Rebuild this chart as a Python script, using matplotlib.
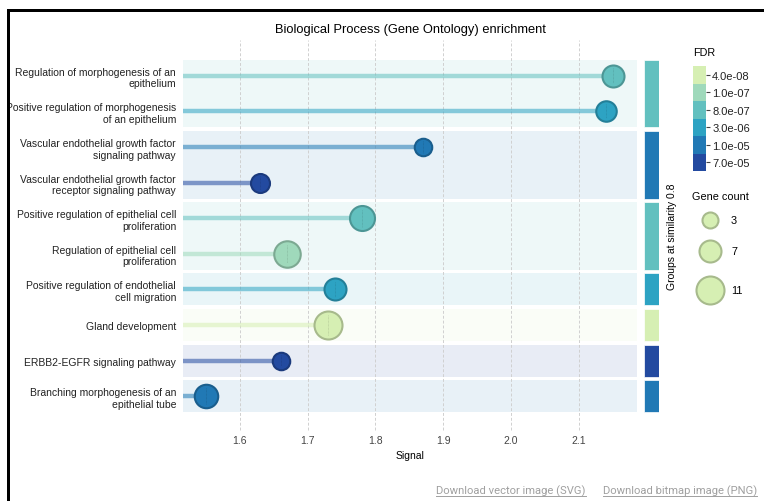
import numpy as np
import matplotlib
matplotlib.use("Agg")
import matplotlib.pyplot as plt
from matplotlib.patches import Rectangle
from matplotlib.lines import Line2D
from matplotlib.colors import to_rgb

plt.rcParams["font.family"] = ["Liberation Sans", "DejaVu Sans"]

# GO terms, top to bottom
terms = [
    "Regulation of morphogenesis of an\nepithelium",
    "Positive regulation of morphogenesis\nof an epithelium",
    "Vascular endothelial growth factor\nsignaling pathway",
    "Vascular endothelial growth factor\nreceptor signaling pathway",
    "Positive regulation of epithelial cell\nproliferation",
    "Regulation of epithelial cell\nproliferation",
    "Positive regulation of endothelial\ncell migration",
    "Gland development",
    "ERBB2-EGFR signaling pathway",
    "Branching morphogenesis of an\nepithelial tube",
]
signal = [2.15, 2.14, 1.87, 1.63, 1.78, 1.67, 1.74, 1.73, 1.66, 1.55]
fdr = [8.0e-07, 3.0e-06, 1.0e-05, 7.0e-05, 8.0e-07, 1.0e-07, 3.0e-06, 4.0e-08, 7.0e-05, 1.0e-05]
gene_count = [7, 6, 4, 5, 9, 10, 7, 11, 4, 8]
group = [0, 0, 1, 1, 2, 2, 3, 4, 5, 6]

fdr_levels = [4.0e-08, 1.0e-07, 8.0e-07, 3.0e-06, 1.0e-05, 7.0e-05]
fdr_labels = ["4.0e-08", "1.0e-07", "8.0e-07", "3.0e-06", "1.0e-05", "7.0e-05"]
fdr_colors = ["#d6efb3", "#9fd9bb", "#62c0bf", "#2da3c3", "#2179b5", "#234aa0"]
legend_counts = [3, 7, 11]
xticks = [1.6, 1.7, 1.8, 1.9, 2.0, 2.1]

W, H = 764, 502
DPI = 100


def fdr_color(v):
    i = int(np.argmin(np.abs(np.log10(fdr_levels) - np.log10(v))))
    return fdr_colors[i]


def darker(c, f=0.75):
    return tuple(np.array(to_rgb(c)) * f)


def radius_px(n):
    return 9 + 0.75 * (n - 3)


def marker_size(n, lw_px=2.0):
    r = radius_px(n) - lw_px / 2
    return (2 * r * 72 / DPI) ** 2


def box(l, t, w, h):
    return [l / W, 1 - (t + h) / H, w / W, h / H]


fig = plt.figure(figsize=(W / DPI, H / DPI), dpi=DPI)
ax = fig.add_axes(box(183, 59, 454, 356))
n = len(terms)
ax.set_ylim(n - 0.5, -0.5)
ax.set_xlim(1.516, 2.186)
row_px = 356 / n

# group bands
groups = sorted(set(group))
for g in groups:
    rows = [i for i in range(n) if group[i] == g]
    col = fdr_color(fdr[rows[0]])
    ax.axhspan(rows[0] - 0.45, rows[-1] + 0.45, color=col, alpha=0.1, lw=0, zorder=0.3)

for t in xticks:
    ax.axvline(t, ymin=-0.045, ymax=1.05, clip_on=False, color="#d0d0d0",
               lw=0.7, ls=(0, (3, 2)), zorder=0.5)

x0 = ax.get_xlim()[0]
for i in range(n):
    col = fdr_color(fdr[i])
    ax.hlines(i, x0, signal[i], color=col, alpha=0.55, lw=3.2, zorder=1)
    ax.scatter(signal[i], i, s=marker_size(gene_count[i]), color=col,
               edgecolor=darker(col, 0.78), linewidth=1.5, zorder=3)
    half = 0.75 * (radius_px(gene_count[i]) - 2) / row_px
    ax.vlines(signal[i], i - half, i + half, color=darker(col, 0.82), lw=0.5,
              ls=(0, (1, 1)), zorder=4)

ax.set_xticks(xticks)
ax.set_xticklabels([f"{t:.1f}" for t in xticks])
ax.set_yticks(range(n))
ax.set_yticklabels(terms, fontsize=7.5, color="#222222", linespacing=1.2)
ax.tick_params(axis="y", length=0, pad=5)
ax.tick_params(axis="x", length=0, pad=15, labelsize=7.5, labelcolor="#444444")
ax.set_xlabel("Signal", fontsize=7.5, labelpad=4)
for s in ax.spines.values():
    s.set_visible(False)

# group color strip
sax = fig.add_axes(box(644, 59, 15, 356))
sax.set_ylim(n - 0.5, -0.5)
sax.set_xlim(0, 1)
for g in groups:
    rows = [i for i in range(n) if group[i] == g]
    col = fdr_color(fdr[rows[0]])
    sax.add_patch(Rectangle((0, rows[0] - 0.45), 1, rows[-1] - rows[0] + 0.9,
                            facecolor=col, edgecolor="#ffffff", lw=0.5))
sax.set_xticks([])
sax.set_yticks([])
for s in sax.spines.values():
    s.set_visible(False)
sax.yaxis.set_label_position("right")
sax.set_ylabel("Groups at similarity 0.8", fontsize=7.5, labelpad=6)

# FDR color key
cax = fig.add_axes(box(693, 67, 13, 105))
cax.set_ylim(len(fdr_levels), 0)
cax.set_xlim(0, 1)
for k, c in enumerate(fdr_colors):
    cax.add_patch(Rectangle((0, k), 1, 1, facecolor=c, lw=0))
cax.set_xticks([])
cax.set_yticks(np.arange(len(fdr_levels)) + 0.5)
cax.set_yticklabels(fdr_labels)
cax.yaxis.tick_right()
cax.tick_params(axis="y", length=3, width=0.8, pad=1.5, labelsize=8,
                color="#444444", labelcolor="#222222")
for s in cax.spines.values():
    s.set_visible(False)
fig.text(693 / W, 1 - 53 / H, "FDR", fontsize=7.8, ha="left", va="center")

# gene count key
gax = fig.add_axes(box(690, 205, 70, 100))
gax.set_xlim(0, 70)
gax.set_ylim(100, 0)
gax.axis("off")
for cnt, yy in zip(legend_counts, [16, 47, 86]):
    gax.scatter(20, yy, s=marker_size(cnt), color=fdr_colors[0],
                edgecolor=darker(fdr_colors[0], 0.78), linewidth=1.5, clip_on=False)
    gax.text(41, yy, str(cnt), fontsize=7.8, va="center", ha="left")
fig.text(720 / W, 1 - 197 / H, "Gene count", fontsize=7.8, ha="center", va="center")

fig.text(410 / W, 1 - 30 / H, "Biological Process (Gene Ontology) enrichment",
         fontsize=9.3, ha="center", va="center")

# download links
links = []
for xx, s in [(436, "Download vector image (SVG)"), (603, "Download bitmap image (PNG)")]:
    links.append(fig.text(xx / W, 1 - 491 / H, s, fontsize=8.1, color="#a0a0a0",
                          family=["Roboto", "DejaVu Sans"], ha="left", va="center"))
fig.canvas.draw()
r = fig.canvas.get_renderer()
for t in links:
    bb = t.get_window_extent(r).transformed(fig.transFigure.inverted())
    fig.add_artist(Line2D([bb.x0, bb.x1], [bb.y0 - 0.5 / H, bb.y0 - 0.5 / H],
                          transform=fig.transFigure, color="#a0a0a0", lw=0.7))

# page frame
fig.add_artist(Rectangle((0, 0), 7 / W, 1, transform=fig.transFigure,
                         facecolor="white", lw=0, zorder=5))
fig.add_artist(Rectangle((7 / W, 1 - 13 / H), 1, 3 / H, transform=fig.transFigure,
                         facecolor="black", lw=0, zorder=6))
fig.add_artist(Rectangle((7 / W, 0), 3 / W, 1 - 10 / H, transform=fig.transFigure,
                         facecolor="black", lw=0, zorder=6))

fig.savefig("out.png", dpi=DPI)
